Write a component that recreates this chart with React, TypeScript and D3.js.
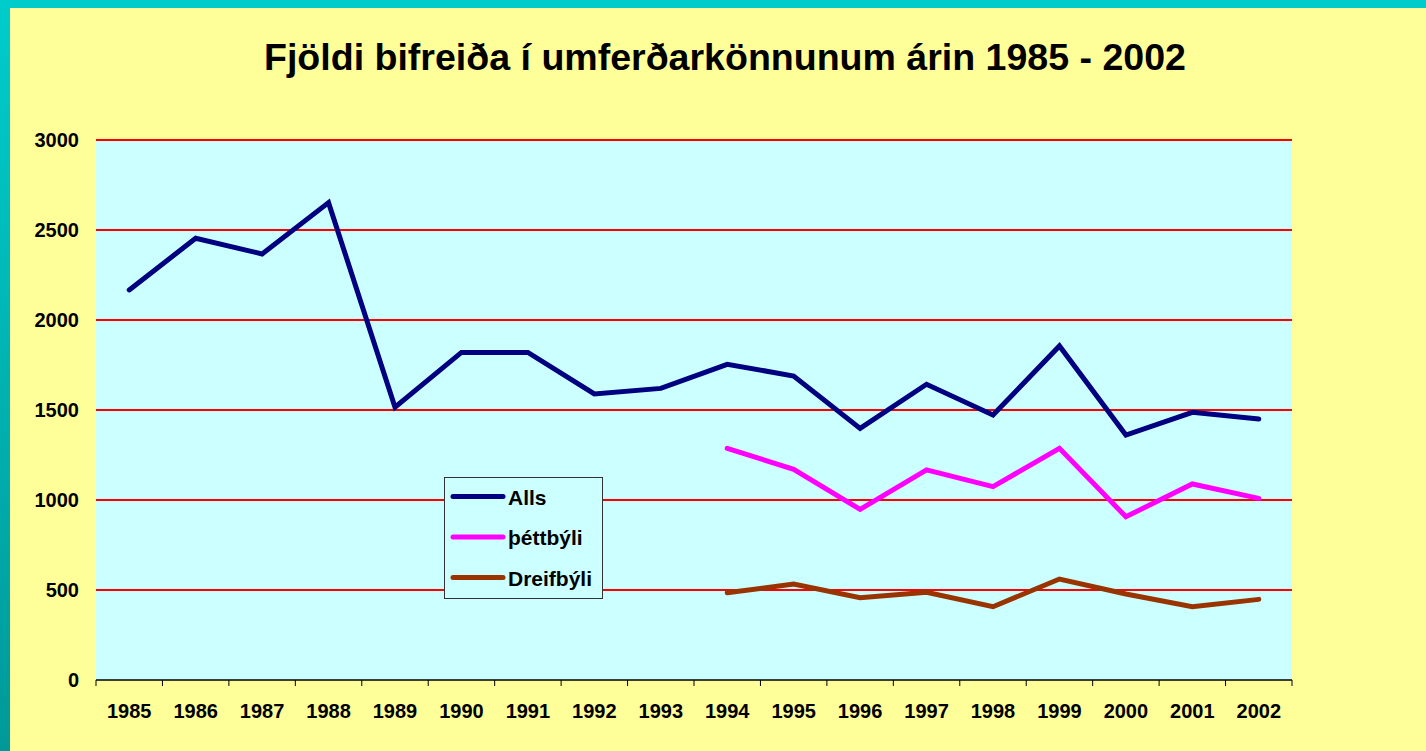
import * as React from 'react'
import * as d3 from 'd3'

const years = ['1985', '1986', '1987', '1988', '1989', '1990', '1991', '1992', '1993', '1994', '1995', '1996', '1997', '1998', '1999', '2000', '2001', '2002']

const alls = [2167, 2454, 2367, 2652, 1515, 1820, 1820, 1589, 1620, 1754, 1689, 1398, 1643, 1472, 1856, 1361, 1487, 1450]
const thettbyli: (number | null)[] = [null, null, null, null, null, null, null, null, null, 1287, 1170, 948, 1167, 1074, 1287, 907, 1089, 1009]
const dreifbyli: (number | null)[] = [null, null, null, null, null, null, null, null, null, 485, 533, 457, 487, 407, 561, 478, 407, 448]

const yTicks = [0, 500, 1000, 1500, 2000, 2500, 3000]

const series = [
  { name: 'Alls', values: alls as (number | null)[], color: '#000080' },
  { name: 'þéttbýli', values: thettbyli, color: '#FF00FF' },
  { name: 'Dreifbýli', values: dreifbyli, color: '#993300' },
]

const W = 1426
const H = 751
const FONT = 'Arial, "Liberation Sans", Helvetica, sans-serif'

export default function App() {
  const svgRef = React.useRef<SVGSVGElement>(null)

  React.useEffect(() => {
    if (!svgRef.current) return
    const svg = d3.select(svgRef.current)
    svg.selectAll('*').remove()

    // frame: teal border + yellow panel
    const defs = svg.append('defs')
    const grad = defs.append('linearGradient').attr('id', 'side').attr('x1', 0).attr('y1', 0).attr('x2', 0).attr('y2', 1)
    grad.append('stop').attr('offset', '0%').attr('stop-color', '#00CCCC')
    grad.append('stop').attr('offset', '100%').attr('stop-color', '#009999')

    svg.append('rect').attr('width', W).attr('height', H).attr('fill', 'url(#side)')
    svg.append('rect').attr('x', 0).attr('y', 0).attr('width', W).attr('height', 8).attr('fill', '#00CCCC')
    svg.append('rect').attr('x', 10).attr('y', 8).attr('width', W - 10).attr('height', H - 8).attr('fill', '#FFFF99')

    svg.append('text')
      .attr('x', 725)
      .attr('y', 70)
      .attr('text-anchor', 'middle')
      .attr('font-family', FONT)
      .attr('font-weight', 'bold')
      .attr('font-size', '36px')
      .attr('textLength', 922)
      .attr('lengthAdjust', 'spacingAndGlyphs')
      .attr('fill', '#000')
      .text('Fjöldi bifreiða í umferðarkönnunum árin 1985 - 2002')

    const left = 96
    const right = 1292
    const top = 140
    const bottom = 680

    const x = d3.scaleBand<string>().domain(years).range([left, right])
    const y = d3.scaleLinear().domain([0, 3000]).range([bottom, top])

    svg.append('rect')
      .attr('x', left)
      .attr('y', top)
      .attr('width', right - left)
      .attr('height', bottom - top)
      .attr('fill', '#CCFFFF')

    // grid lines
    yTicks.filter((t) => t > 0).forEach((t) => {
      svg.append('line')
        .attr('x1', left)
        .attr('x2', right)
        .attr('y1', y(t))
        .attr('y2', y(t))
        .attr('stroke', '#FF0000')
        .attr('stroke-width', 2)
    })

    // y labels
    yTicks.forEach((t) => {
      svg.append('text')
        .attr('x', 79)
        .attr('y', y(t) + 7)
        .attr('text-anchor', 'end')
        .attr('font-family', FONT)
        .attr('font-weight', 'bold')
        .attr('font-size', '20px')
        .attr('fill', '#000')
        .text(String(t))
    })

    // x axis
    svg.append('line')
      .attr('x1', left)
      .attr('x2', right)
      .attr('y1', bottom)
      .attr('y2', bottom)
      .attr('stroke', '#000')
      .attr('stroke-width', 1.5)

    const bounds = years.map((yr) => x(yr) as number).concat([right])
    bounds.forEach((bx) => {
      svg.append('line')
        .attr('x1', bx)
        .attr('x2', bx)
        .attr('y1', bottom)
        .attr('y2', bottom + 6)
        .attr('stroke', '#000')
        .attr('stroke-width', 1)
    })

    years.forEach((yr) => {
      svg.append('text')
        .attr('x', (x(yr) as number) + x.bandwidth() / 2)
        .attr('y', 718)
        .attr('text-anchor', 'middle')
        .attr('font-family', FONT)
        .attr('font-weight', 'bold')
        .attr('font-size', '20px')
        .attr('fill', '#000')
        .text(yr)
    })

    // lines
    const line = d3
      .line<number | null>()
      .defined((d) => d != null)
      .x((_, i) => (x(years[i]) as number) + x.bandwidth() / 2)
      .y((d) => y(d as number))

    series.forEach((s) => {
      svg.append('path')
        .datum(s.values)
        .attr('d', line)
        .attr('fill', 'none')
        .attr('stroke', s.color)
        .attr('stroke-width', 5)
        .attr('stroke-linejoin', 'miter')
        .attr('stroke-linecap', 'round')
    })

    // legend
    const lg = svg.append('g').attr('transform', 'translate(444,477)')
    lg.append('rect')
      .attr('x', 0.5)
      .attr('y', 0.5)
      .attr('width', 158)
      .attr('height', 121)
      .attr('fill', '#CCFFFF')
      .attr('stroke', '#333')
      .attr('stroke-width', 1)

    series.forEach((s, i) => {
      const cy = 19.5 + i * 40.5
      lg.append('line')
        .attr('x1', 9)
        .attr('x2', 59)
        .attr('y1', cy)
        .attr('y2', cy)
        .attr('stroke', s.color)
        .attr('stroke-width', 5)
        .attr('stroke-linecap', 'round')
      lg.append('text')
        .attr('x', 64)
        .attr('y', cy + 8)
        .attr('font-family', FONT)
        .attr('font-weight', 'bold')
        .attr('font-size', '21px')
        .attr('fill', '#000')
        .text(s.name)
    })
  }, [])

  return (
    <svg
      ref={svgRef}
      width={W}
      height={H}
      style={{ position: 'fixed', left: 0, top: 0, display: 'block' }}
    />
  )
}
